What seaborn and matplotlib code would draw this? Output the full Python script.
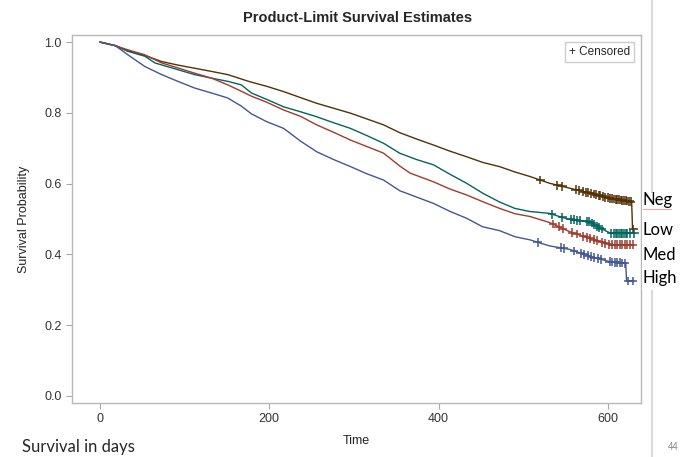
import numpy as np
import pandas as pd
import matplotlib
matplotlib.use("Agg")
import matplotlib.pyplot as plt
from matplotlib.lines import Line2D
from matplotlib.patches import Rectangle
import seaborn as sns

# survival curves (day, survival)
groups = ["Neg", "Low", "Med", "High"]
colors = ["#543005", "#01665E", "#A23A2E", "#445694"]

neg_days = [0, 18, 33, 53, 73, 92, 112, 132, 151, 177, 197, 217, 237, 256, 276, 296, 315,
            335, 354, 374, 394, 413, 433, 452, 472, 490, 508, 531, 555, 579, 603, 628, 629, 631]
neg_surv = [1.0, 0.990, 0.975, 0.962, 0.945, 0.935, 0.926, 0.917, 0.908, 0.888, 0.875, 0.860,
            0.843, 0.827, 0.813, 0.799, 0.783, 0.766, 0.744, 0.726, 0.709, 0.692, 0.676, 0.660,
            0.648, 0.633, 0.620, 0.601, 0.587, 0.573, 0.558, 0.549, 0.472, 0.472]

low_days = [0, 18, 33, 53, 65, 92, 112, 132, 151, 167, 179, 197, 217, 237, 256, 276, 296, 315,
            335, 354, 374, 394, 413, 433, 452, 472, 490, 508, 531, 545, 555, 579, 590, 603, 632]
low_surv = [1.0, 0.990, 0.974, 0.960, 0.941, 0.922, 0.908, 0.898, 0.889, 0.879, 0.856, 0.838,
            0.817, 0.803, 0.789, 0.772, 0.756, 0.736, 0.714, 0.686, 0.668, 0.653, 0.627, 0.601,
            0.573, 0.548, 0.530, 0.521, 0.516, 0.505, 0.499, 0.492, 0.475, 0.460, 0.460]

med_days = [0, 18, 33, 53, 73, 92, 112, 132, 151, 167, 179, 197, 217, 237, 256, 276, 296, 315,
            335, 354, 366, 394, 413, 433, 452, 472, 490, 508, 531, 555, 579, 603, 630]
med_surv = [1.0, 0.990, 0.978, 0.964, 0.941, 0.927, 0.912, 0.898, 0.879, 0.861, 0.847, 0.830,
            0.808, 0.790, 0.766, 0.745, 0.723, 0.705, 0.686, 0.650, 0.630, 0.605, 0.585, 0.568,
            0.549, 0.530, 0.515, 0.507, 0.490, 0.464, 0.445, 0.427, 0.427]

high_days = [0, 18, 33, 53, 73, 92, 112, 132, 151, 167, 179, 197, 217, 237, 256, 276, 296, 315,
             335, 354, 374, 394, 413, 433, 452, 472, 490, 508, 531, 555, 579, 603, 621, 622, 630]
high_surv = [1.0, 0.990, 0.964, 0.931, 0.908, 0.889, 0.870, 0.856, 0.842, 0.819, 0.797, 0.775,
             0.756, 0.720, 0.690, 0.668, 0.648, 0.628, 0.610, 0.580, 0.562, 0.544, 0.522, 0.502,
             0.478, 0.467, 0.450, 0.441, 0.424, 0.414, 0.394, 0.379, 0.375, 0.325, 0.325]

# censoring times
neg_cens = [520, 540, 546, 562, 566, 571, 574, 577, 580, 583, 586, 589, 591, 594, 597, 600,
            602, 605, 607, 609, 611, 613, 615, 617, 619, 621, 623, 625, 627, 630]
low_cens = [534, 546, 556, 560, 563, 567, 575, 578, 581, 584, 587, 590, 593, 604, 607, 609,
            611, 613, 615, 617, 619, 621, 623, 626, 631]
med_cens = [535, 542, 547, 558, 563, 571, 575, 579, 583, 587, 593, 597, 601, 605, 608, 611,
            614, 617, 620, 623, 626, 629]
high_cens = [517, 544, 548, 560, 568, 572, 576, 580, 584, 588, 592, 602, 605, 608, 611, 614,
             617, 620, 624, 629]

curves = {"Neg": (neg_days, neg_surv, neg_cens), "Low": (low_days, low_surv, low_cens),
          "Med": (med_days, med_surv, med_cens), "High": (high_days, high_surv, high_cens)}

rows, crows = [], []
for g, (d, s, c) in curves.items():
    for t, v in zip(d, s):
        rows.append((g, t, v))
    # censor marks sit on the drawn curve
    for t in c:
        crows.append((g, t, float(np.interp(t, d, s))))
df = pd.DataFrame(rows, columns=["group", "time", "surv"])
cdf = pd.DataFrame(crows, columns=["group", "time", "surv"])
pal = dict(zip(groups, colors))

sns.set_style("ticks")
plt.rcParams["font.family"] = ["Liberation Sans", "DejaVu Sans"]

fig = plt.figure(figsize=(6.89, 4.57), dpi=100)
ax = fig.add_axes([0.1045, 0.1182, 0.8258, 0.8052])

sns.lineplot(data=df, x="time", y="surv", hue="group", palette=pal, estimator=None,
             sort=False, lw=1, legend=False, ax=ax)
sns.scatterplot(data=cdf, x="time", y="surv", hue="group", palette=pal, marker="+",
                s=40, linewidth=1.1, legend=False, ax=ax, zorder=3)

ax.set_xlim(-33, 639)
ax.set_ylim(-0.02, 1.02)
ax.set_xticks([0, 200, 400, 600])
ax.set_yticks([0.0, 0.2, 0.4, 0.6, 0.8, 1.0])
ax.set_yticklabels(["0.0", "0.2", "0.4", "0.6", "0.8", "1.0"])
ax.tick_params(length=4, color="#a8a8a8", labelcolor="#333333", labelsize=9)
for sp in ax.spines.values():
    sp.set_visible(True)
    sp.set_color("#b8b8b8")
    sp.set_linewidth(1)

ax.set_xlabel("Time", fontsize=9, color="#222222", labelpad=7)
ax.set_ylabel("Survival Probability", fontsize=9, color="#222222", labelpad=10)
fig.text(358 / 689, 1 - 18 / 457, "Product-Limit Survival Estimates", ha="center",
         va="center", fontsize=10.5, fontweight="bold")

ax.annotate("+ Censored", xy=(1, 1), xycoords="axes fraction", xytext=(-8, -8),
            textcoords="offset points", ha="right", va="top", fontsize=8.5,
            bbox=dict(boxstyle="square,pad=0.35", fc="white", ec="#cccccc", lw=1))

# slide decorations
fig.add_artist(Line2D([652 / 689, 652 / 689], [0, 1], transform=fig.transFigure,
                      color="#dadada", lw=1.5, zorder=0))
fig.add_artist(Rectangle((642 / 689, 1 - 290 / 457), 40 / 689, 97 / 457,
                         transform=fig.transFigure, fc="white", ec="none", zorder=1))
label_y = {"Neg": 200, "Low": 230, "Med": 255, "High": 278}
for g in groups:
    fig.text(642 / 689, 1 - label_y[g] / 457, g, ha="left", va="center", fontsize=12,
             family=["Lato", "DejaVu Sans"], color="black", zorder=2)
fig.add_artist(Line2D([643 / 689, 671 / 689], [1 - 209 / 457] * 2, transform=fig.transFigure,
                      color="#f08080", lw=0.8, alpha=0.7, zorder=2))
fig.text(22 / 689, 1 - 447 / 457, "Survival in days", ha="left", va="center", fontsize=12,
         family=["Lato", "DejaVu Sans"])
fig.text(673 / 689, 1 - 447 / 457, "44", ha="center", va="center", fontsize=7, color="#888888")

fig.savefig("out.png", dpi=100)
